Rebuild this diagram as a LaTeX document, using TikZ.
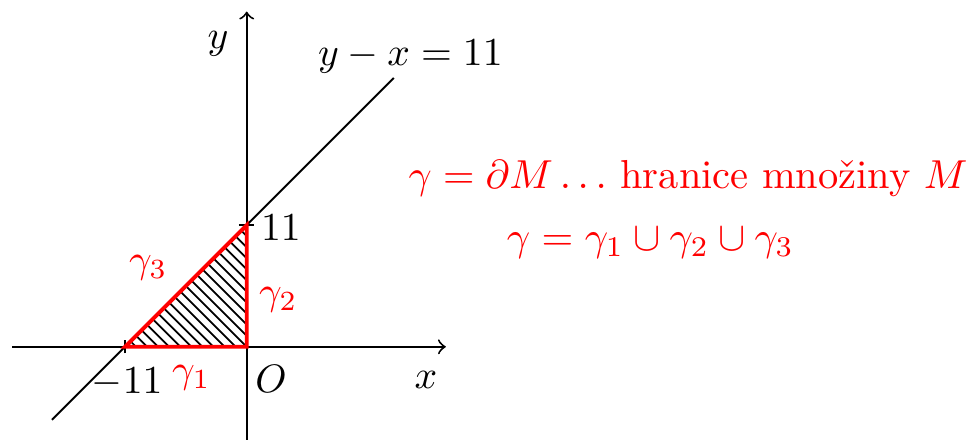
\documentclass[tikz,border=0pt]{standalone}
\usepackage{fontspec}
\usetikzlibrary{calc}
\begin{document}
\begin{tikzpicture}[x=0.1cm,y=0.1cm,
  axis/.style={line width=0.5pt,->},
  lbl/.style={anchor=base,inner sep=0pt,scale=1.02},
  redlbl/.style={lbl,text=red},
  bnd/.style={draw=red,line width=1pt,line join=miter},
  hatch/.style={line width=0.45pt}]
\useasboundingbox (-22.3,-8.35) rectangle (65.2,31.35);
% coordinates
\coordinate (O) at (0,0);
\coordinate (A) at (-11,0);
\coordinate (B) at (0,11);
\coordinate (xs) at (-21.2,0);
\coordinate (xe) at (18,0);
\coordinate (ys) at (0,-8.6);
\coordinate (ye) at (0,30.3);
\coordinate (ls) at (-17.6,-6.6);
\coordinate (le) at (13.3,24.3);
% hatching
\begin{scope}
\clip (A) -- (O) -- (B) -- cycle;
\foreach \k in {-11,...,11} {
  \draw[hatch] (\k-12,12) -- (\k+12,-12);
}
\end{scope}
% axes
\draw[axis] (xs) -- (xe);
\draw[axis] (ys) -- (ye);
% line y-x=11
\draw[line width=0.5pt] (ls) -- (le);
% ticks
\draw[line width=0.5pt] ($(A)+(0,-0.6)$) -- ($(A)+(0,0.6)$);
\draw[line width=0.5pt] ($(B)+(-0.7,0)$) -- ($(B)+(0.7,0)$);
% boundary
\draw[bnd] (A) -- (O) -- (B) -- cycle;
% labels
\node[lbl] (ylab) at (-2.6,27.0) {$y$};
\node[lbl] (xlab) at (16.2,-3.75) {$x$};
\node[lbl] (Olab) at (2.2,-4.1) {$O$};
\node[lbl] (m11) at (-10.8,-4.2) {$-11$};
\node[lbl] (p11) at (3.1,9.65) {$11$};
\node[lbl] (eq) at (14.8,25.4) {$y-x=11$};
\node[redlbl] (g1) at (-5.0,-3.2) {$\gamma_1$};
\node[redlbl] (g2) at (2.85,3.8) {$\gamma_2$};
\node[redlbl] (g3) at (-8.9,6.75) {$\gamma_3$};
\node[redlbl,scale=1.02] (t1) at (39.9,14.35) {$\gamma=\partial M\ldots$ hranice množiny $M$};
\node[redlbl,scale=1.03] (t2) at (36.5,8.74) {$\gamma=\gamma_1\cup\gamma_2\cup\gamma_3$};
\end{tikzpicture}
\end{document}
